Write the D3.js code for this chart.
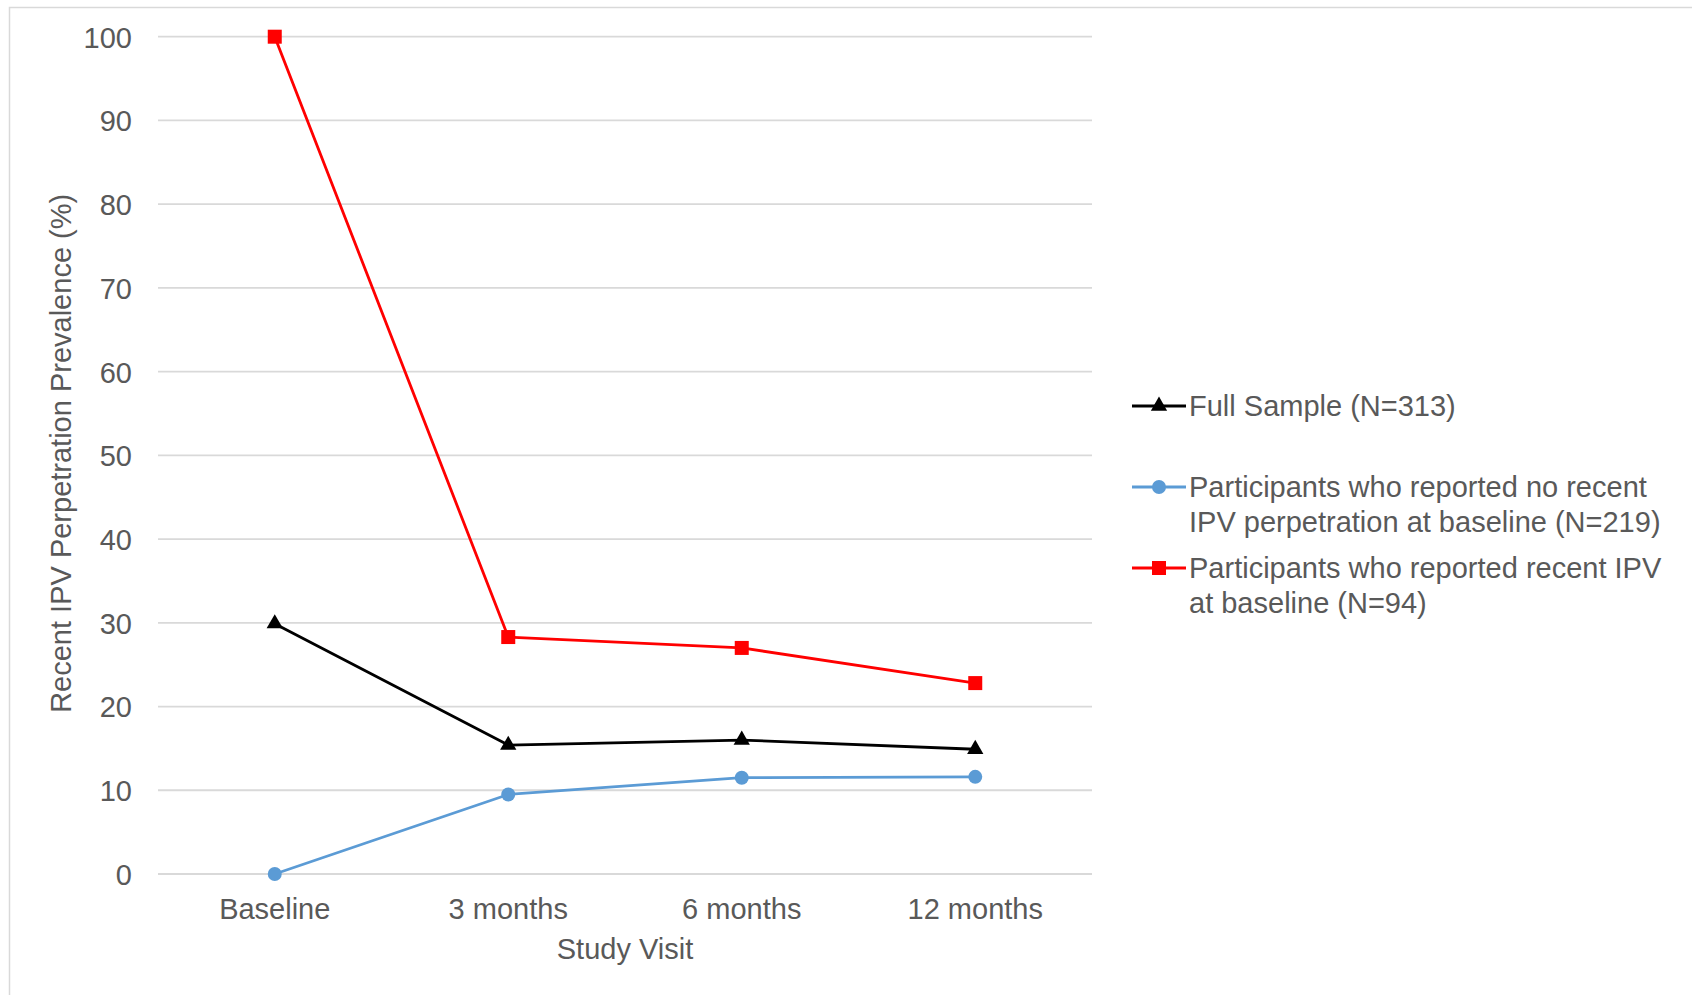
<!DOCTYPE html>
<html>
<head>
<meta charset="utf-8">
<script src="https://cdn.jsdelivr.net/npm/d3@7"></script>
<style>
  body { margin: 0; background: #fff; }
  svg { display: block; font-family: "Liberation Sans", Arial, sans-serif; }
</style>
</head>
<body>
<svg id="chart" width="1692" height="995"></svg>
<script>
const visits = ["Baseline", "3 months", "6 months", "12 months"];
const yTicks = [0, 10, 20, 30, 40, 50, 60, 70, 80, 90, 100];

const fullSample = [29.9, 15.4, 16.0, 14.9];
const noIpvBaseline = [0, 9.5, 11.5, 11.6];
const ipvBaseline = [100, 28.3, 27.0, 22.8];

const seriesNames = [
    ["Full Sample (N=313)"],
    ["Participants who reported no recent", "IPV perpetration at baseline (N=219)"],
    ["Participants who reported recent IPV", "at baseline (N=94)"]
];

const series = [
    { values: fullSample, color: "#000000", marker: "triangle" },
    { values: noIpvBaseline, color: "#5b9bd5", marker: "circle" },
    { values: ipvBaseline, color: "#ff0000", marker: "square" }
];

const textColor = "#595959";
const gridColor = "#d9d9d9";
const fontSize = "29px";

const svg = d3.select("#chart");

// outer frame (runs off the right and bottom edge)
svg.append("rect")
    .attr("x", 9.5).attr("y", 7.5)
    .attr("width", 1720).attr("height", 1020)
    .attr("fill", "none")
    .attr("stroke", gridColor)
    .attr("stroke-width", 1.5);

const plot = { left: 158, right: 1092, top: 36.7, bottom: 874 };

const x = d3.scaleBand()
    .domain(visits)
    .range([plot.left, plot.right]);

const y = d3.scaleLinear()
    .domain([0, 100])
    .range([plot.bottom, plot.top]);

// gridlines
svg.append("g")
    .selectAll("line")
    .data(yTicks)
    .enter()
    .append("line")
    .attr("x1", plot.left)
    .attr("x2", plot.right)
    .attr("y1", d => y(d))
    .attr("y2", d => y(d))
    .attr("stroke", gridColor)
    .attr("stroke-width", 1.8);

// y tick labels
const yAxis = svg.append("g")
    .attr("transform", `translate(${plot.left}, 0)`)
    .call(d3.axisLeft(y).tickValues(yTicks).tickSize(0).tickPadding(26));
yAxis.select(".domain").remove();
yAxis.selectAll("text")
    .attr("fill", textColor)
    .style("font-size", fontSize)
    .attr("dy", "0.36em");

// x tick labels
const xAxis = svg.append("g")
    .attr("transform", `translate(0, ${plot.bottom})`)
    .call(d3.axisBottom(x).tickSize(0).tickPadding(0));
xAxis.select(".domain").remove();
xAxis.selectAll("text")
    .attr("y", 34.6)
    .attr("dy", "0.36em")
    .attr("fill", textColor)
    .style("font-size", fontSize);

// axis titles
svg.append("text")
    .attr("transform", `translate(61, ${(plot.top + plot.bottom) / 2 - 2}) rotate(-90)`)
    .attr("text-anchor", "middle")
    .attr("dy", "0.36em")
    .attr("fill", textColor)
    .style("font-size", fontSize)
    .text("Recent IPV Perpetration Prevalence (%)");

svg.append("text")
    .attr("x", 625)
    .attr("y", 948.5)
    .attr("text-anchor", "middle")
    .attr("dy", "0.36em")
    .attr("fill", textColor)
    .style("font-size", fontSize)
    .text("Study Visit");

const cx = d => x(d) + x.bandwidth() / 2;

function drawMarker(g, type, color) {
    if (type === "triangle") {
        g.append("path")
            .attr("d", d3.symbol().type(d3.symbolTriangle).size(115)())
            .attr("fill", color);
    } else if (type === "circle") {
        g.append("circle").attr("r", 7).attr("fill", color);
    } else {
        g.append("rect")
            .attr("x", -7).attr("y", -7)
            .attr("width", 14).attr("height", 14)
            .attr("fill", color);
    }
}

const line = d3.line()
    .x((d, i) => cx(visits[i]))
    .y(d => y(d));

// draw blue, black, then red on top
[1, 0, 2].forEach(k => {
    const s = series[k];
    svg.append("path")
        .datum(s.values)
        .attr("d", line)
        .attr("fill", "none")
        .attr("stroke", s.color)
        .attr("stroke-width", 2.8)
        .attr("stroke-linejoin", "round");

    s.values.forEach((v, i) => {
        const g = svg.append("g")
            .attr("transform", `translate(${cx(visits[i])}, ${y(v)})`);
        drawMarker(g, s.marker, s.color);
    });
});

// legend
const legendRows = [406, 487, 568];
const legend = svg.append("g");
series.forEach((s, k) => {
    const g = legend.append("g")
        .attr("transform", `translate(0, ${legendRows[k]})`);
    g.append("line")
        .attr("x1", 1132).attr("x2", 1186)
        .attr("y1", 0).attr("y2", 0)
        .attr("stroke", s.color)
        .attr("stroke-width", 2.8);
    const mg = g.append("g").attr("transform", "translate(1159, 0)");
    drawMarker(mg, s.marker, s.color);
    seriesNames[k].forEach((t, j) => {
        g.append("text")
            .attr("x", 1189)
            .attr("y", j * 34.5)
            .attr("dy", "0.36em")
            .attr("fill", textColor)
            .style("font-size", fontSize)
            .text(t);
    });
});
</script>
</body>
</html>
